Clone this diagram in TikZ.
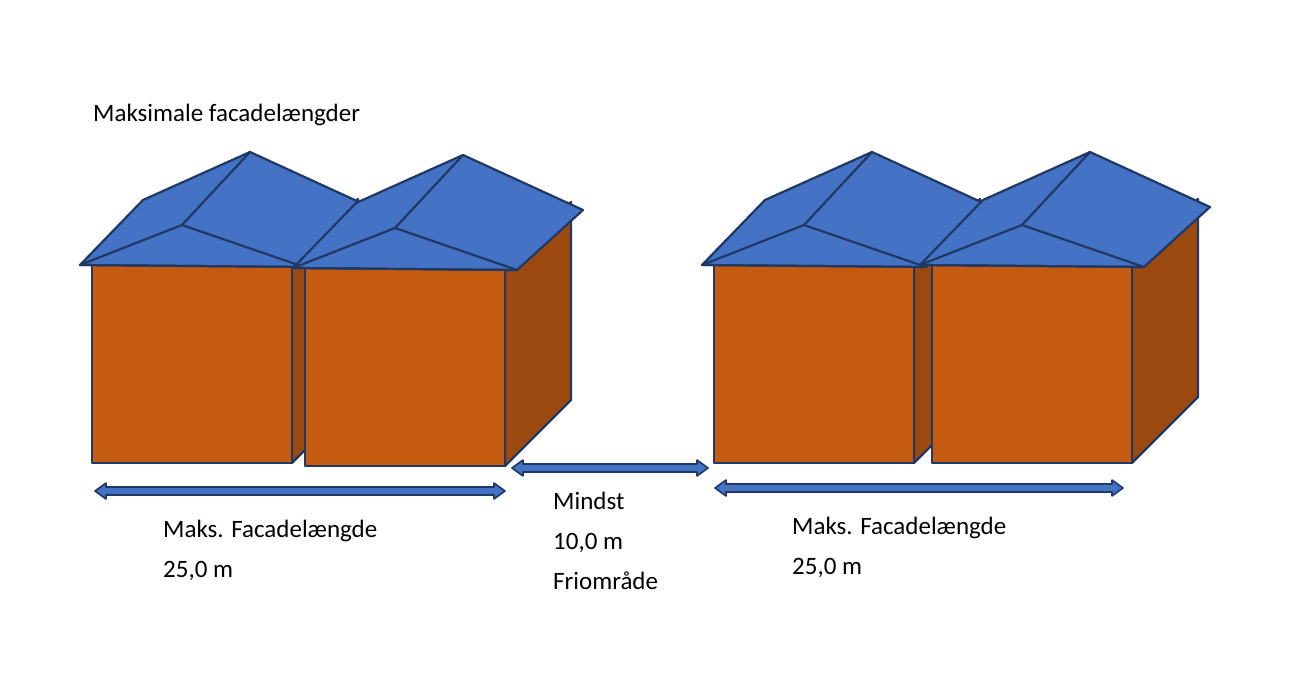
\documentclass[tikz,border=0pt]{standalone}
\usepackage{fontspec}
\setmainfont{Carlito}
\definecolor{roofblue}{HTML}{4472C4}
\definecolor{wallor}{HTML}{C55A11}
\definecolor{sideor}{HTML}{9C4A0F}
\definecolor{edge}{HTML}{1F3864}
\tikzset{
  outl/.style={draw=edge,line width=2.2pt,line join=round},
  lbl/.style={anchor=north west,align=left,font=\fontsize{25}{40}\selectfont,inner sep=0pt},
  house/.pic={
    \path[outl,fill=sideor] (200,0) -- (266,-66) -- (266,132) -- (200,198) -- cycle;
    \path[outl,fill=wallor] (0,0) rectangle (200,198);
    \path[outl,fill=roofblue] (-12,0) -- (51,-65) -- (158,-113) -- (278,-58) -- (212,2) -- cycle;
    \path[outl] (-12,0) -- (90,-40) -- (212,2);
    \path[outl] (90,-40) -- (158,-113);
    \path[outl] (-12,0) -- (212,2);
  }
}
\newcommand{\darrow}[4]{% name, x1, x2, y
  \path[outl,line width=1.6pt,fill=roofblue] (#2,#4) -- (#2+11,#4-8) -- (#2+11,#4-4) -- (#3-11,#4-4) -- (#3-11,#4-8) -- (#3,#4) -- (#3-11,#4+8) -- (#3-11,#4+4) -- (#2+11,#4+4) -- (#2+11,#4+8) -- cycle;
  \coordinate (#1) at ({(#2+#3)/2},#4);
}
\begin{document}
\begin{tikzpicture}[x=1pt,y=-1pt]
\useasboundingbox (0,0) rectangle (1291,676);
\pic at (92,265) {house};
\pic at (305,268) {house};
\pic at (714,265) {house};
\pic at (932,265) {house};
\darrow{a1}{95}{505}{491}
\darrow{a2}{512}{708}{468}
\darrow{a3}{715}{1123}{488}
\node[lbl] (t0) at (93,104) {Maksimale facadelængder};
\node[lbl] (t1) at (163,520) {Maks. Facadelængde\\25,0 m};
\node[lbl] (t2) at (553,492) {Mindst\\10,0 m\\Friområde};
\node[lbl] (t3) at (792,517) {Maks. Facadelængde\\25,0 m};
\end{tikzpicture}
\end{document}
